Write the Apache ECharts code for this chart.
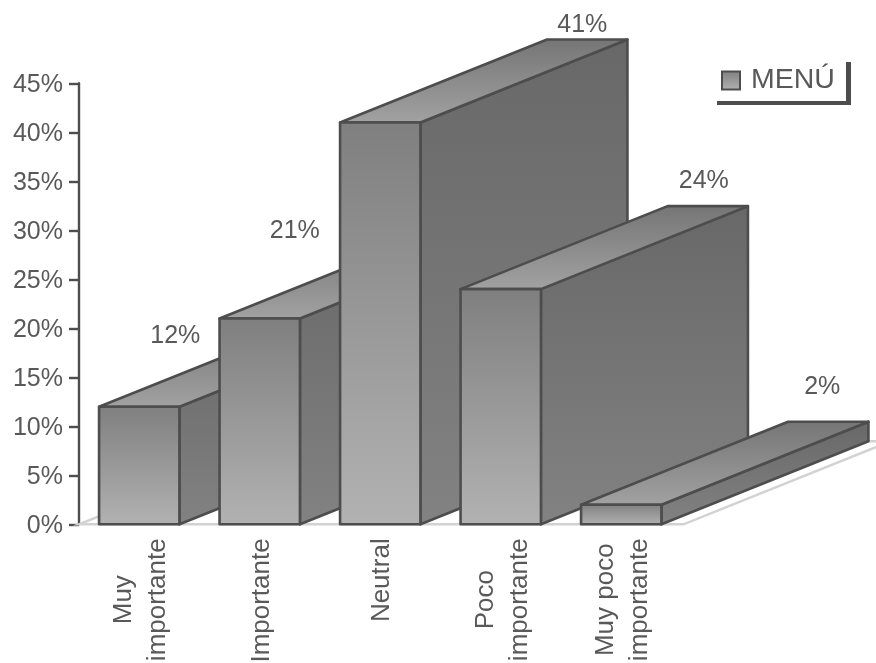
<!DOCTYPE html>
<html>
<head>
<meta charset="utf-8">
<title>Importancia</title>
<script src="https://cdn.jsdelivr.net/npm/echarts@6/dist/echarts.min.js"></script>
<style>
  html, body { margin: 0; padding: 0; background: #fff; }
  #chart { width: 876px; height: 663px; }
</style>
</head>
<body>
<div id="chart"></div>
<script>
const categories = [['Muy', 'importante'], ['Importante'], ['Neutral'], ['Poco', 'importante'], ['Muy poco', 'importante']];
const shares = [12, 21, 41, 24, 2];
const yTicks = { min: 0, max: 45, step: 5 };
const seriesName = 'MENÚ';

// Pixel shift of each value label from the top centre of its bar's front face.
const labelShift = [[36, -71], [35, -87], [202, -97], [203, -108], [201, -118]];

const DEPTH_X = 207, DEPTH_Y = -83;
const BAR_RATIO = 0.667;
const INK = '#4d4d4d', TEXT = '#595959', FLOOR = '#d2d2d2';
const FONT = '"Liberation Sans", Arial, sans-serif';

const vertical = (from, to) => ({
  type: 'linear', x: 0, y: 0, x2: 0, y2: 1,
  colorStops: [{ offset: 0, color: from }, { offset: 1, color: to }]
});
const FRONT_FILL = vertical('#7f7f7f', '#b2b2b2');
const TOP_FILL = vertical('#757575', '#a2a2a2');
const SIDE_FILL = vertical('#686868', '#828282');

const face = (points, fill) => ({
  type: 'polygon',
  shape: { points },
  style: { fill, stroke: INK, lineWidth: 2.6, lineJoin: 'round' }
});

function renderBar(params, api) {
  const index = api.value(0);
  const value = api.value(1);
  const [cx, top] = api.coord([index, value]);
  const [, base] = api.coord([index, 0]);
  const half = api.size([1, 0])[0] * BAR_RATIO / 2;
  const l = cx - half, r = cx + half;
  const shift = labelShift[index];
  return {
    type: 'group',
    children: [
      face([[r, top], [r + DEPTH_X, top + DEPTH_Y], [r + DEPTH_X, base + DEPTH_Y], [r, base]], SIDE_FILL),
      face([[l, top], [r, top], [r + DEPTH_X, top + DEPTH_Y], [l + DEPTH_X, top + DEPTH_Y]], TOP_FILL),
      face([[l, top], [r, top], [r, base], [l, base]], FRONT_FILL),
      {
        type: 'text',
        style: {
          x: cx + shift[0], y: top + shift[1],
          text: value + '%',
          fill: TEXT, font: '25px ' + FONT,
          textAlign: 'center', textVerticalAlign: 'middle'
        }
      }
    ]
  };
}

// Floor of the chart: a light outline running back from the category axis.
function renderFloor(params, api) {
  const size = api.size([1, 0])[0];
  const [x0, y0] = api.coord([0, 0]);
  const left = x0 - size / 2;
  const right = x0 + size * (categories.length - 0.5) + 2;
  return {
    type: 'polygon',
    shape: { points: [[left, y0], [right, y0], [right + DEPTH_X, y0 + DEPTH_Y], [left + DEPTH_X, y0 + DEPTH_Y]] },
    style: { fill: 'none', stroke: FLOOR, lineWidth: 2.4 }
  };
}

const chart = echarts.init(document.getElementById('chart'), null, { renderer: 'canvas' });
chart.setOption({
  animation: false,
  backgroundColor: '#fff',
  textStyle: { fontFamily: FONT },
  // The rotated category labels run to the page edge, so the plot keeps its fixed box.
  grid: { left: 79, top: 83.3, width: 602.5, height: 441, containLabel: false, outerBoundsMode: 'none' },
  legend: {
    left: 721, top: 66,
    padding: 0,
    itemWidth: 18, itemHeight: 18, itemGap: 0,
    icon: 'rect',
    data: [{
      name: seriesName,
      itemStyle: { color: vertical('#808080', '#b2b2b2'), borderColor: INK, borderWidth: 2 }
    }],
    textStyle: { fontSize: 28.5, color: TEXT, fontFamily: FONT, padding: [2, 0, 0, 6] }
  },
  graphic: [
    { type: 'rect', shape: { x: 846, y: 62, width: 5, height: 43 }, style: { fill: INK }, silent: true },
    { type: 'rect', shape: { x: 717, y: 101, width: 134, height: 4 }, style: { fill: INK }, silent: true }
  ],
  xAxis: {
    type: 'category',
    data: categories.map(lines => lines.join('\n')),
    axisLine: { show: false },
    axisTick: { show: false },
    axisLabel: {
      rotate: 90,
      interval: 0,
      margin: 14,
      color: TEXT,
      fontSize: 26,
      fontFamily: FONT,
      lineHeight: 34,
      hideOverlap: false,
      padding: [4, 0, 0, 0],
      formatter: value => value.split('\n').map(line => '{c|' + line + '}').join('\n'),
      rich: { c: { align: 'center', fontSize: 26, lineHeight: 34, color: TEXT, fontFamily: FONT } }
    }
  },
  yAxis: {
    type: 'value',
    min: yTicks.min, max: yTicks.max, interval: yTicks.step,
    splitLine: { show: false },
    axisLine: { show: true, lineStyle: { color: INK, width: 2.4 } },
    axisTick: { show: true, length: 10, lineStyle: { color: INK, width: 2.4 } },
    axisLabel: {
      formatter: value => '{t|' + value + '%}',
      color: TEXT, fontSize: 25, fontFamily: FONT, margin: 16,
      padding: [3, 0, 0, 0],
      rich: { t: { fontSize: 25, color: TEXT, fontFamily: FONT } }
    }
  },
  series: [
    {
      type: 'custom',
      silent: true,
      z: 1,
      clip: false,
      renderItem: renderFloor,
      encode: { x: 0, y: 1 },
      data: [[0, 0]]
    },
    {
      name: seriesName,
      type: 'custom',
      z: 2,
      clip: false,
      renderItem: renderBar,
      encode: { x: 0, y: 1 },
      data: shares.map((v, i) => [i, v])
    }
  ]
});
</script>
</body>
</html>
